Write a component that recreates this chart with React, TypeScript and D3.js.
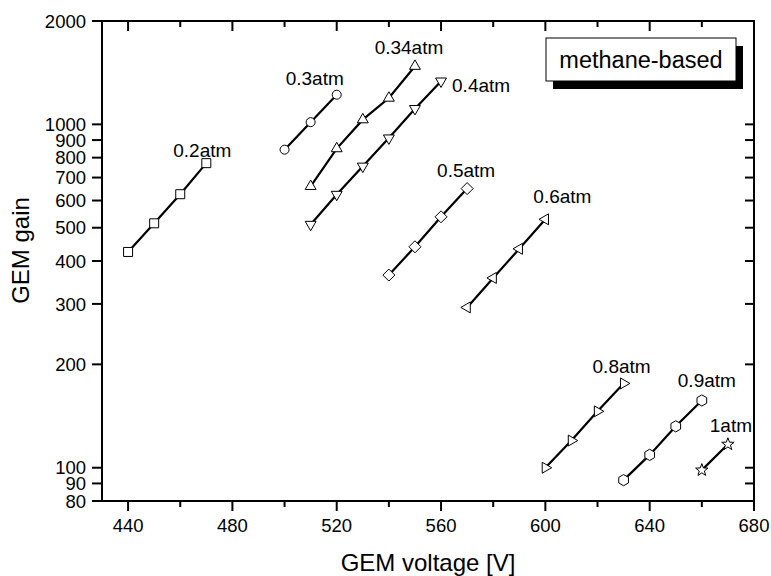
import React from 'react';
import * as d3 from 'd3';

// ---- data ----
const seriesNames = ['0.2atm', '0.3atm', '0.34atm', '0.4atm', '0.5atm', '0.6atm', '0.8atm', '0.9atm', '1atm'];

const volt02 = [440, 450, 460, 470];
const gain02 = [425, 515, 626, 771];
const volt03 = [500, 510, 520];
const gain03 = [844, 1015, 1220];
const volt034 = [510, 520, 530, 540, 550];
const gain034 = [660, 850, 1032, 1193, 1477];
const volt04 = [510, 520, 530, 540, 550, 560];
const gain04 = [511, 625, 755, 912, 1111, 1336];
const volt05 = [540, 550, 560, 570];
const gain05 = [364, 440, 538, 650];
const volt06 = [570, 580, 590, 600];
const gain06 = [293, 357, 434, 529];
const volt08 = [600, 610, 620, 630];
const gain08 = [100, 120, 146, 176];
const volt09 = [630, 640, 650, 660];
const gain09 = [92, 109, 132, 157];
const volt10 = [660, 670];
const gain10 = [98.4, 117];

const xTickValues = [440, 480, 520, 560, 600, 640, 680];
const xMinorTicks = [460, 500, 540, 580, 620, 660];
const yTickValues = [80, 90, 100, 200, 300, 400, 500, 600, 700, 800, 900, 1000, 2000];
const legendText = 'methane-based';
const xTitle = 'GEM voltage [V]';
const yTitle = 'GEM gain';

const seriesVolts = [volt02, volt03, volt034, volt04, volt05, volt06, volt08, volt09, volt10];
const seriesGains = [gain02, gain03, gain034, gain04, gain05, gain06, gain08, gain09, gain10];

// ---- styling / layout ----
const W = 771, H = 576;
const L = 102, R = 754, T = 21, B = 501;
const FONT = 'Liberation Sans, Arial, sans-serif';

const markerKinds = ['square', 'circle', 'up', 'down', 'diamond', 'left', 'right', 'hexagon', 'star'];
// label offset relative to last point of each series [dx, dy, anchor]
const labelOffsets: [number, number, string][] = [
  [-4, -6, 'middle'],
  [-22, -10, 'middle'],
  [-6, -12, 'middle'],
  [11, 11, 'start'],
  [-1, -12, 'middle'],
  [17, -16, 'middle'],
  [-2, -10, 'middle'],
  [5, -13, 'middle'],
  [3, -12, 'middle'],
];

function markerPath(kind: string): string {
  const poly = (pts: number[][]) =>
    'M' + pts.map((p) => p[0].toFixed(2) + ',' + p[1].toFixed(2)).join('L') + 'Z';
  const tri = (r: number, rot: number) =>
    poly([0, 1, 2].map((i) => {
      const a = (rot + i * 120) * Math.PI / 180;
      return [r * Math.cos(a), r * Math.sin(a)];
    }));
  switch (kind) {
    case 'square':
      return 'M-4.5,-4.5L4.5,-4.5L4.5,4.5L-4.5,4.5Z';
    case 'circle':
      return 'M-4.5,0A4.5,4.5 0 1,0 4.5,0A4.5,4.5 0 1,0 -4.5,0Z';
    case 'up':
      return tri(6.3, -90);
    case 'down':
      return tri(6.3, 90);
    case 'left':
      return tri(6.3, 180);
    case 'right':
      return tri(6.3, 0);
    case 'diamond':
      return 'M0,-6L6,0L0,6L-6,0Z';
    case 'hexagon':
      return poly(d3.range(6).map((i) => {
        const a = (i * 60 - 90) * Math.PI / 180;
        return [5.6 * Math.cos(a), 5.6 * Math.sin(a)];
      }));
    case 'star':
      return poly(d3.range(10).map((i) => {
        const r = i % 2 === 0 ? 6.5 : 2.7;
        const a = (i * 36 - 90) * Math.PI / 180;
        return [r * Math.cos(a), r * Math.sin(a)];
      }));
  }
  return '';
}

export default function App() {
  const x = d3.scaleLinear().domain([430, 680]).range([L, R]);
  const y = d3.scaleLog().domain([80, 2000]).range([B, T]);
  const line = d3.line<[number, number]>().x((d) => x(d[0])).y((d) => y(d[1]));

  return (
    <svg width={W} height={H} style={{ position: 'fixed', left: 0, top: 0, background: '#fff' }} fontFamily={FONT}>
      <rect x={0} y={0} width={W} height={H} fill="#fff" />

      {/* series lines */}
      {seriesNames.map((name, si) => {
        const pts = seriesVolts[si].map((v, i) => [v, seriesGains[si][i]] as [number, number]);
        return <path key={'l' + name} d={line(pts) || ''} fill="none" stroke="#000" strokeWidth={2.2} />;
      })}
      {/* markers */}
      {seriesNames.map((name, si) =>
        seriesVolts[si].map((v, i) => (
          <path
            key={'m' + name + i}
            d={markerPath(markerKinds[si])}
            transform={`translate(${x(v)},${y(seriesGains[si][i])})`}
            fill="#fff"
            stroke="#000"
            strokeWidth={1}
          />
        ))
      )}
      {/* series labels */}
      {seriesNames.map((name, si) => {
        const n = seriesVolts[si].length - 1;
        const off = labelOffsets[si];
        return (
          <text
            key={'t' + name}
            x={x(seriesVolts[si][n]) + off[0]}
            y={y(seriesGains[si][n]) + off[1]}
            textAnchor={off[2] as any}
            fontSize={19}
            fill="#000"
          >
            {name}
          </text>
        );
      })}

      {/* frame */}
      <rect x={L} y={T} width={R - L} height={B - T} fill="none" stroke="#000" strokeWidth={2} />

      {/* x ticks */}
      {xTickValues.map((v) => (
        <g key={'xt' + v}>
          <line x1={x(v)} x2={x(v)} y1={B} y2={B + 10} stroke="#000" strokeWidth={2} />
          <line x1={x(v)} x2={x(v)} y1={T} y2={T + 10} stroke="#000" strokeWidth={2} />
          <text x={x(v)} y={B + 31} textAnchor="middle" fontSize={18.5}>{v}</text>
        </g>
      ))}
      {xMinorTicks.map((v) => (
        <g key={'xm' + v}>
          <line x1={x(v)} x2={x(v)} y1={B} y2={B + 6} stroke="#000" strokeWidth={2} />
          <line x1={x(v)} x2={x(v)} y1={T} y2={T + 6} stroke="#000" strokeWidth={2} />
        </g>
      ))}
      {/* y ticks */}
      {yTickValues.map((v) => (
        <g key={'yt' + v}>
          <line x1={L - 10} x2={L} y1={y(v)} y2={y(v)} stroke="#000" strokeWidth={2} />
          <line x1={R - 9} x2={R} y1={y(v)} y2={y(v)} stroke="#000" strokeWidth={2} />
          <text x={L - 16} y={y(v)} dy="0.36em" textAnchor="end" fontSize={18.5}>{v}</text>
        </g>
      ))}

      {/* axis titles */}
      <text x={(L + R) / 2} y={571} textAnchor="middle" fontSize={24}>{xTitle}</text>
      <text transform={`translate(29,250.5) rotate(-90)`} textAnchor="middle" fontSize={24}>{yTitle}</text>

      {/* legend box */}
      <rect x={553} y={46} width={190} height={43} fill="#000" />
      <rect x={546} y={38} width={190} height={43} fill="#fff" stroke="#000" strokeWidth={1} />
      <text x={641} y={67.5} textAnchor="middle" fontSize={23.5}>{legendText}</text>
    </svg>
  );
}
